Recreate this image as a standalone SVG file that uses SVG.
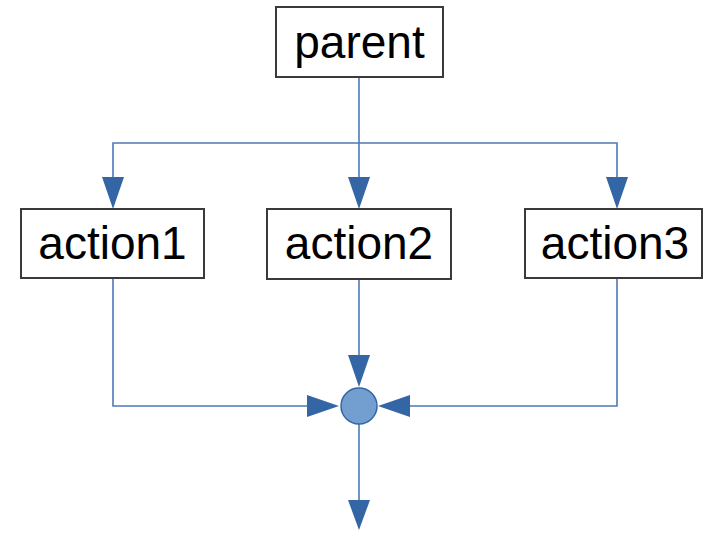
<svg xmlns="http://www.w3.org/2000/svg" width="705" height="533" viewBox="0 0 705 533">
<style>
.box{fill:#fff;stroke:#3a3a3a;stroke-width:2}
.lbl{font-family:"Liberation Sans",Arial,sans-serif;font-size:46px;fill:#000;text-anchor:middle}
.ln{fill:none;stroke:#4d7ab5;stroke-width:1.6}
.ah{fill:#3465a4}
</style>
<rect width="705" height="533" fill="#fff"/>
<g id="connectors">
<path class="ln" d="M359,77 V180"/>
<path class="ln" d="M113,177 V143 H617 V177"/>
<path class="ln" d="M113,278 V406 H308"/>
<path class="ln" d="M617,278 V406 H409"/>
<path class="ln" d="M359,279 V355"/>
<path class="ln" d="M359,424 V502"/>
<polygon class="ah" points="102,177 124,177 113,209"/>
<polygon class="ah" points="348,177 370,177 359,209"/>
<polygon class="ah" points="606,177 628,177 617,209"/>
<polygon class="ah" points="348,355 370,355 359,387"/>
<polygon class="ah" points="307,395 307,417 339,406"/>
<polygon class="ah" points="410,395 410,417 378,406"/>
<polygon class="ah" points="348,500 370,500 359,530"/>
</g>
<g id="parent">
<rect class="box" x="276" y="7" width="167" height="70"/>
<text class="lbl" x="359.5" y="58">parent</text>
</g>
<g id="action1">
<rect class="box" x="21" y="209" width="183" height="69"/>
<text class="lbl" x="112.5" y="259">action1</text>
</g>
<g id="action2">
<rect class="box" x="267" y="209" width="184" height="70"/>
<text class="lbl" x="359" y="259">action2</text>
</g>
<g id="action3">
<rect class="box" x="525" y="209" width="177" height="69"/>
<text class="lbl" x="615" y="259">action3</text>
</g>
<g id="join">
<circle cx="359" cy="406" r="18" fill="#729fcf" stroke="#3465a4" stroke-width="1.5"/>
</g>
</svg>
